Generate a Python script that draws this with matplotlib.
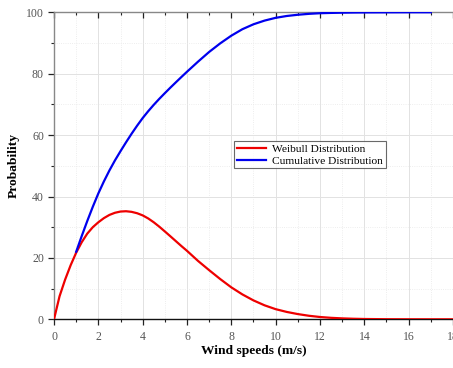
import matplotlib
matplotlib.use("Agg")
import matplotlib.pyplot as plt
from matplotlib.ticker import MultipleLocator

# Weibull distribution
weibull_x = [0, 0.25, 0.5, 0.75, 1, 1.25, 1.5, 1.75, 2, 2.25, 2.5, 2.75, 3, 3.25, 3.5,
             3.75, 4, 4.25, 4.5, 4.75, 5, 5.25, 5.5, 5.75, 6, 6.5, 7, 7.5, 8, 8.5, 9,
             9.5, 10, 10.5, 11, 11.5, 12, 12.5, 13, 13.5, 14, 15, 16, 17, 18]
weibull_y = [0, 7.5, 12.9, 17.6, 21.7, 25.1, 27.9, 30.0, 31.6, 32.95, 34.0, 34.7, 35.1, 35.2, 35.0,
             34.55, 33.85, 32.85, 31.6, 30.17, 28.62, 27.04, 25.44, 23.84, 22.3, 19.0, 16.0, 13.1, 10.4,
             8.1, 6.15, 4.55, 3.3, 2.4, 1.7, 1.15, 0.75, 0.48, 0.3, 0.18, 0.1, 0.03, 0.01, 0, 0]

# Cumulative distribution
cum_x = [1, 1.25, 1.5, 1.75, 2, 2.25, 2.5, 2.75, 3, 3.25, 3.5, 3.75, 4, 4.25, 4.5, 4.75, 5,
         5.25, 5.5, 5.75, 6, 6.5, 7, 7.5, 8, 8.5, 9, 9.5, 10, 10.5, 11, 11.5, 12, 12.5, 13,
         13.5, 14, 15, 16, 17]
cum_y = [22.0, 27.1, 32.0, 36.65, 41.0, 44.9, 48.48, 51.76, 54.76, 57.66, 60.44, 63.07, 65.55,
         67.78, 69.86, 71.81, 73.66, 75.46, 77.21, 78.94, 80.64, 83.94, 87.09, 89.89, 92.39,
         94.5, 96.1, 97.3, 98.2, 98.8, 99.2, 99.5, 99.7, 99.8, 99.87, 99.92, 99.95, 99.98, 100, 100]

x_ticks = [0, 2, 4, 6, 8, 10, 12, 14, 16, 18]
y_ticks = [0, 20, 40, 60, 80, 100]

plt.rcParams['font.family'] = ['Liberation Serif', 'DejaVu Serif']

fig = plt.figure(figsize=(4.53, 3.68), dpi=100)
ax = fig.add_axes([54 / 453, 48.7 / 368, 1 - 54 / 453, (319.3 - 12.3) / 368])

ax.plot(weibull_x, weibull_y, color='#ee0000', lw=1.6, label='Weibull Distribution', zorder=3)
ax.plot(cum_x, cum_y, color='#0000ee', lw=1.6, label='Cumulative Distribution', zorder=3)

ax.set_xlim(0, 18)
ax.set_ylim(0, 100)
ax.set_xticks(x_ticks)
ax.set_yticks(y_ticks)
ax.xaxis.set_minor_locator(MultipleLocator(1))
ax.yaxis.set_minor_locator(MultipleLocator(10))

ax.grid(which='major', color='#e2e2e2', lw=0.7, ls='-')
ax.grid(which='minor', color='#e8e8e8', lw=0.6, ls=':')
ax.set_axisbelow(True)

ax.tick_params(axis='both', which='major', length=4.2, width=0.9, color='#222222',
               labelsize=8.5, labelcolor='#555555', direction='out')
ax.tick_params(axis='both', which='minor', length=2.3, width=0.8, color='#222222', direction='out')
ax.tick_params(axis='x', which='both', top=True, pad=4)
ax.tick_params(axis='y', pad=3)
# top ticks point inward
for t in ax.xaxis.get_major_ticks() + ax.xaxis.get_minor_ticks():
    t.tick2line.set_marker(3)

ax.spines['left'].set_color('#888888')
ax.spines['top'].set_color('#888888')
ax.spines['bottom'].set_color('#111111')
ax.spines['right'].set_visible(False)
for s in ax.spines.values():
    s.set_linewidth(1.0)

ax.set_xlabel('Wind speeds (m/s)', fontsize=9.7, fontweight='bold')
ax.set_ylabel('Probability', fontsize=9.7, fontweight='bold')
ax.xaxis.set_label_coords(0.5, (319.3 - 351) / 307)
ax.xaxis.label.set_va('center')
ax.yaxis.set_label_coords((14 - 54) / 399, 0.5)
ax.yaxis.label.set_va('center')

leg = ax.legend(loc='upper left', bbox_to_anchor=((234 - 54) / 399, 1 - (141 - 12.3) / 307),
                fontsize=8.2, frameon=True, fancybox=False, borderpad=0.25,
                handlelength=2.6, handletextpad=0.5, labelspacing=0.15, borderaxespad=0)
leg.get_frame().set_edgecolor('#444444')
leg.get_frame().set_linewidth(0.8)

fig.savefig('out.png', dpi=100)
